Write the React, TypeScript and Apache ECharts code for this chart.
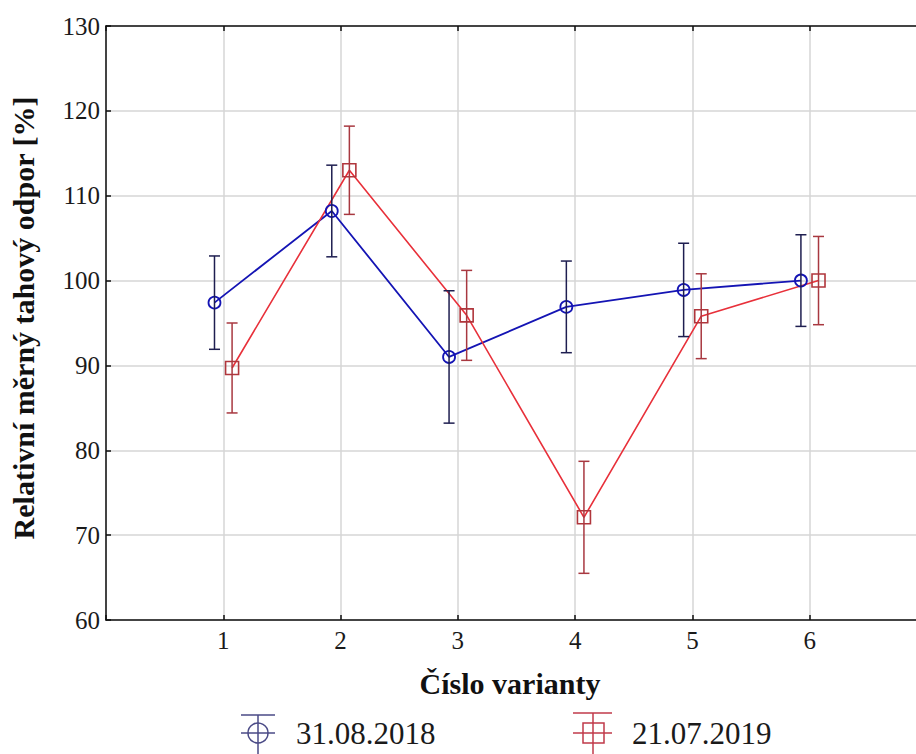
import React, { useEffect, useRef } from "react";
import * as echarts from "echarts";

const variants = [1, 2, 3, 4, 5, 6];
const xTickLabels = ["1", "2", "3", "4", "5", "6"];
const yTicks = [60, 70, 80, 90, 100, 110, 120, 130];

const seriesNames = ["31.08.2018", "21.07.2019"];
const mean2018 = [97.4, 108.2, 91.0, 96.9, 98.9, 100.0];
const err2018 = [5.5, 5.4, 7.8, 5.4, 5.5, 5.4];
const mean2019 = [89.7, 113.0, 95.9, 72.1, 95.8, 100.0];
const err2019 = [5.3, 5.2, 5.3, 6.6, 5.0, 5.2];

const xTitle = "Číslo varianty";
const yTitle = "Relativní měrný tahový odpor [%]";

const FONT = "'Liberation Serif', 'Times New Roman', serif";
const BLUE_LINE = "#1414b4";
const BLUE_ERR = "#1e1e50";
const RED_LINE = "#e8303a";
const RED_ERR = "#a83840";
const RED_MARK = "#b0363c";
const OFFSET = 0.075;

function errorSeries(means: number[], errs: number[], shift: number, color: string) {
  const data = variants.map((v, i) => [v + shift, means[i] - errs[i], means[i] + errs[i]]);
  return {
    type: "custom",
    z: 4,
    renderItem: (params: any, api: any) => {
      const x = api.value(0);
      const lo = api.coord([x, api.value(1)]);
      const hi = api.coord([x, api.value(2)]);
      const w = 5.5;
      const style = { stroke: color, lineWidth: 1.5 };
      return {
        type: "group",
        children: [
          { type: "line", shape: { x1: lo[0], y1: lo[1], x2: hi[0], y2: hi[1] }, style },
          { type: "line", shape: { x1: hi[0] - w, y1: hi[1], x2: hi[0] + w, y2: hi[1] }, style },
          { type: "line", shape: { x1: lo[0] - w, y1: lo[1], x2: lo[0] + w, y2: lo[1] }, style },
        ],
      };
    },
    encode: { x: 0, y: [1, 2] },
    data,
    silent: true,
  };
}

export default function App() {
  const ref = useRef<HTMLDivElement>(null);
  useEffect(() => {
    if (!ref.current) return;
    const chart = echarts.init(ref.current, undefined, { renderer: "svg" });
    const axisLineStyle = { color: "#111", width: 1.5 };
    const option: any = {
      animation: false,
      backgroundColor: "#ffffff",
      grid: { left: 106, top: 26, width: 823, height: 594, containLabel: false },
      xAxis: [
        {
          type: "value",
          min: 0,
          max: 7,
          interval: 1,
          position: "bottom",
          axisLine: { show: true, onZero: false, lineStyle: axisLineStyle },
          axisTick: { show: true, inside: true, length: 5, lineStyle: { color: "#111", width: 1.5 } },
          axisLabel: {
            formatter: (v: number) => {
              const idx = variants.indexOf(v);
              return idx >= 0 ? xTickLabels[idx] : "";
            },
            fontFamily: FONT,
            fontSize: 25,
            color: "#1a1a1a",
            margin: 8,
          },
          splitLine: { show: true, lineStyle: { color: "#d6d6d6", width: 1.5 } },
        },
        {
          type: "value",
          min: 0,
          max: 7,
          interval: 1,
          position: "top",
          axisLine: { show: true, onZero: false, lineStyle: axisLineStyle },
          axisTick: { show: true, inside: true, length: 5, lineStyle: { color: "#111", width: 1.5 } },
          axisLabel: { show: false },
          splitLine: { show: false },
        },
      ],
      yAxis: {
        type: "value",
        min: yTicks[0],
        max: yTicks[yTicks.length - 1],
        interval: 10,
        axisLine: { show: true, onZero: false, lineStyle: axisLineStyle },
        axisTick: { show: true, inside: true, length: 5, lineStyle: { color: "#111", width: 1.5 } },
        axisLabel: { fontFamily: FONT, fontSize: 25, color: "#1a1a1a", margin: 6 },
        splitLine: { show: true, lineStyle: { color: "#d6d6d6", width: 1.5 } },
      },
      series: [
        {
          name: seriesNames[0],
          type: "line",
          z: 3,
          data: variants.map((v, i) => [v - OFFSET, mean2018[i]]),
          lineStyle: { color: BLUE_LINE, width: 1.8 },
          symbol: "circle",
          symbolSize: 12,
          itemStyle: { color: "none", borderColor: BLUE_LINE, borderWidth: 1.8 },
        },
        {
          name: seriesNames[1],
          type: "line",
          z: 3,
          data: variants.map((v, i) => [v + OFFSET, mean2019[i]]),
          lineStyle: { color: RED_LINE, width: 1.6 },
          symbol: "rect",
          symbolSize: 13,
          itemStyle: { color: "none", borderColor: RED_MARK, borderWidth: 1.6 },
        },
        errorSeries(mean2018, err2018, -OFFSET, BLUE_ERR),
        errorSeries(mean2019, err2019, OFFSET, RED_ERR),
      ],
      graphic: [
        {
          type: "text",
          x: 510,
          y: 683,
          style: {
            text: xTitle,
            font: `bold 30px ${FONT}`,
            fill: "#111",
            align: "center",
            verticalAlign: "middle",
          },
        },
        {
          type: "text",
          x: 23,
          y: 318,
          rotation: Math.PI / 2,
          style: {
            text: yTitle,
            font: `bold 30px ${FONT}`,
            fill: "#111",
            align: "center",
            verticalAlign: "middle",
          },
        },
        {
          type: "group",
          children: [
            { type: "line", shape: { x1: 241, y1: 715, x2: 275, y2: 715 }, style: { stroke: "#4a4a86", lineWidth: 1.5 } },
            { type: "line", shape: { x1: 258, y1: 715, x2: 258, y2: 754 }, style: { stroke: "#4a4a86", lineWidth: 1.5 } },
            { type: "line", shape: { x1: 241, y1: 733, x2: 275, y2: 733 }, style: { stroke: "#4a4a86", lineWidth: 1.5 } },
            { type: "circle", shape: { cx: 258, cy: 733, r: 10 }, style: { stroke: "#4a4a86", fill: "none", lineWidth: 1.5 } },
            {
              type: "text",
              x: 296,
              y: 733,
              style: { text: seriesNames[0], font: `31px ${FONT}`, fill: "#1a1a1a", verticalAlign: "middle" },
            },
          ],
        },
        {
          type: "group",
          children: [
            { type: "line", shape: { x1: 573, y1: 713, x2: 612, y2: 713 }, style: { stroke: "#c03a4a", lineWidth: 1.5 } },
            { type: "line", shape: { x1: 593, y1: 713, x2: 593, y2: 754 }, style: { stroke: "#c03a4a", lineWidth: 1.5 } },
            { type: "line", shape: { x1: 573, y1: 733, x2: 612, y2: 733 }, style: { stroke: "#c03a4a", lineWidth: 1.5 } },
            { type: "rect", shape: { x: 583, y: 723, width: 21, height: 20 }, style: { stroke: "#c03a4a", fill: "none", lineWidth: 1.5 } },
            {
              type: "text",
              x: 632,
              y: 733,
              style: { text: seriesNames[1], font: `31px ${FONT}`, fill: "#1a1a1a", verticalAlign: "middle" },
            },
          ],
        },
      ],
    };
    chart.setOption(option);
    return () => chart.dispose();
  }, []);

  return (
    <div
      style={{
        position: "fixed",
        left: 0,
        top: 0,
        width: 916,
        height: 754,
        overflow: "hidden",
        background: "#ffffff",
      }}
    >
      <div ref={ref} style={{ width: 930, height: 754 }} />
    </div>
  );
}
